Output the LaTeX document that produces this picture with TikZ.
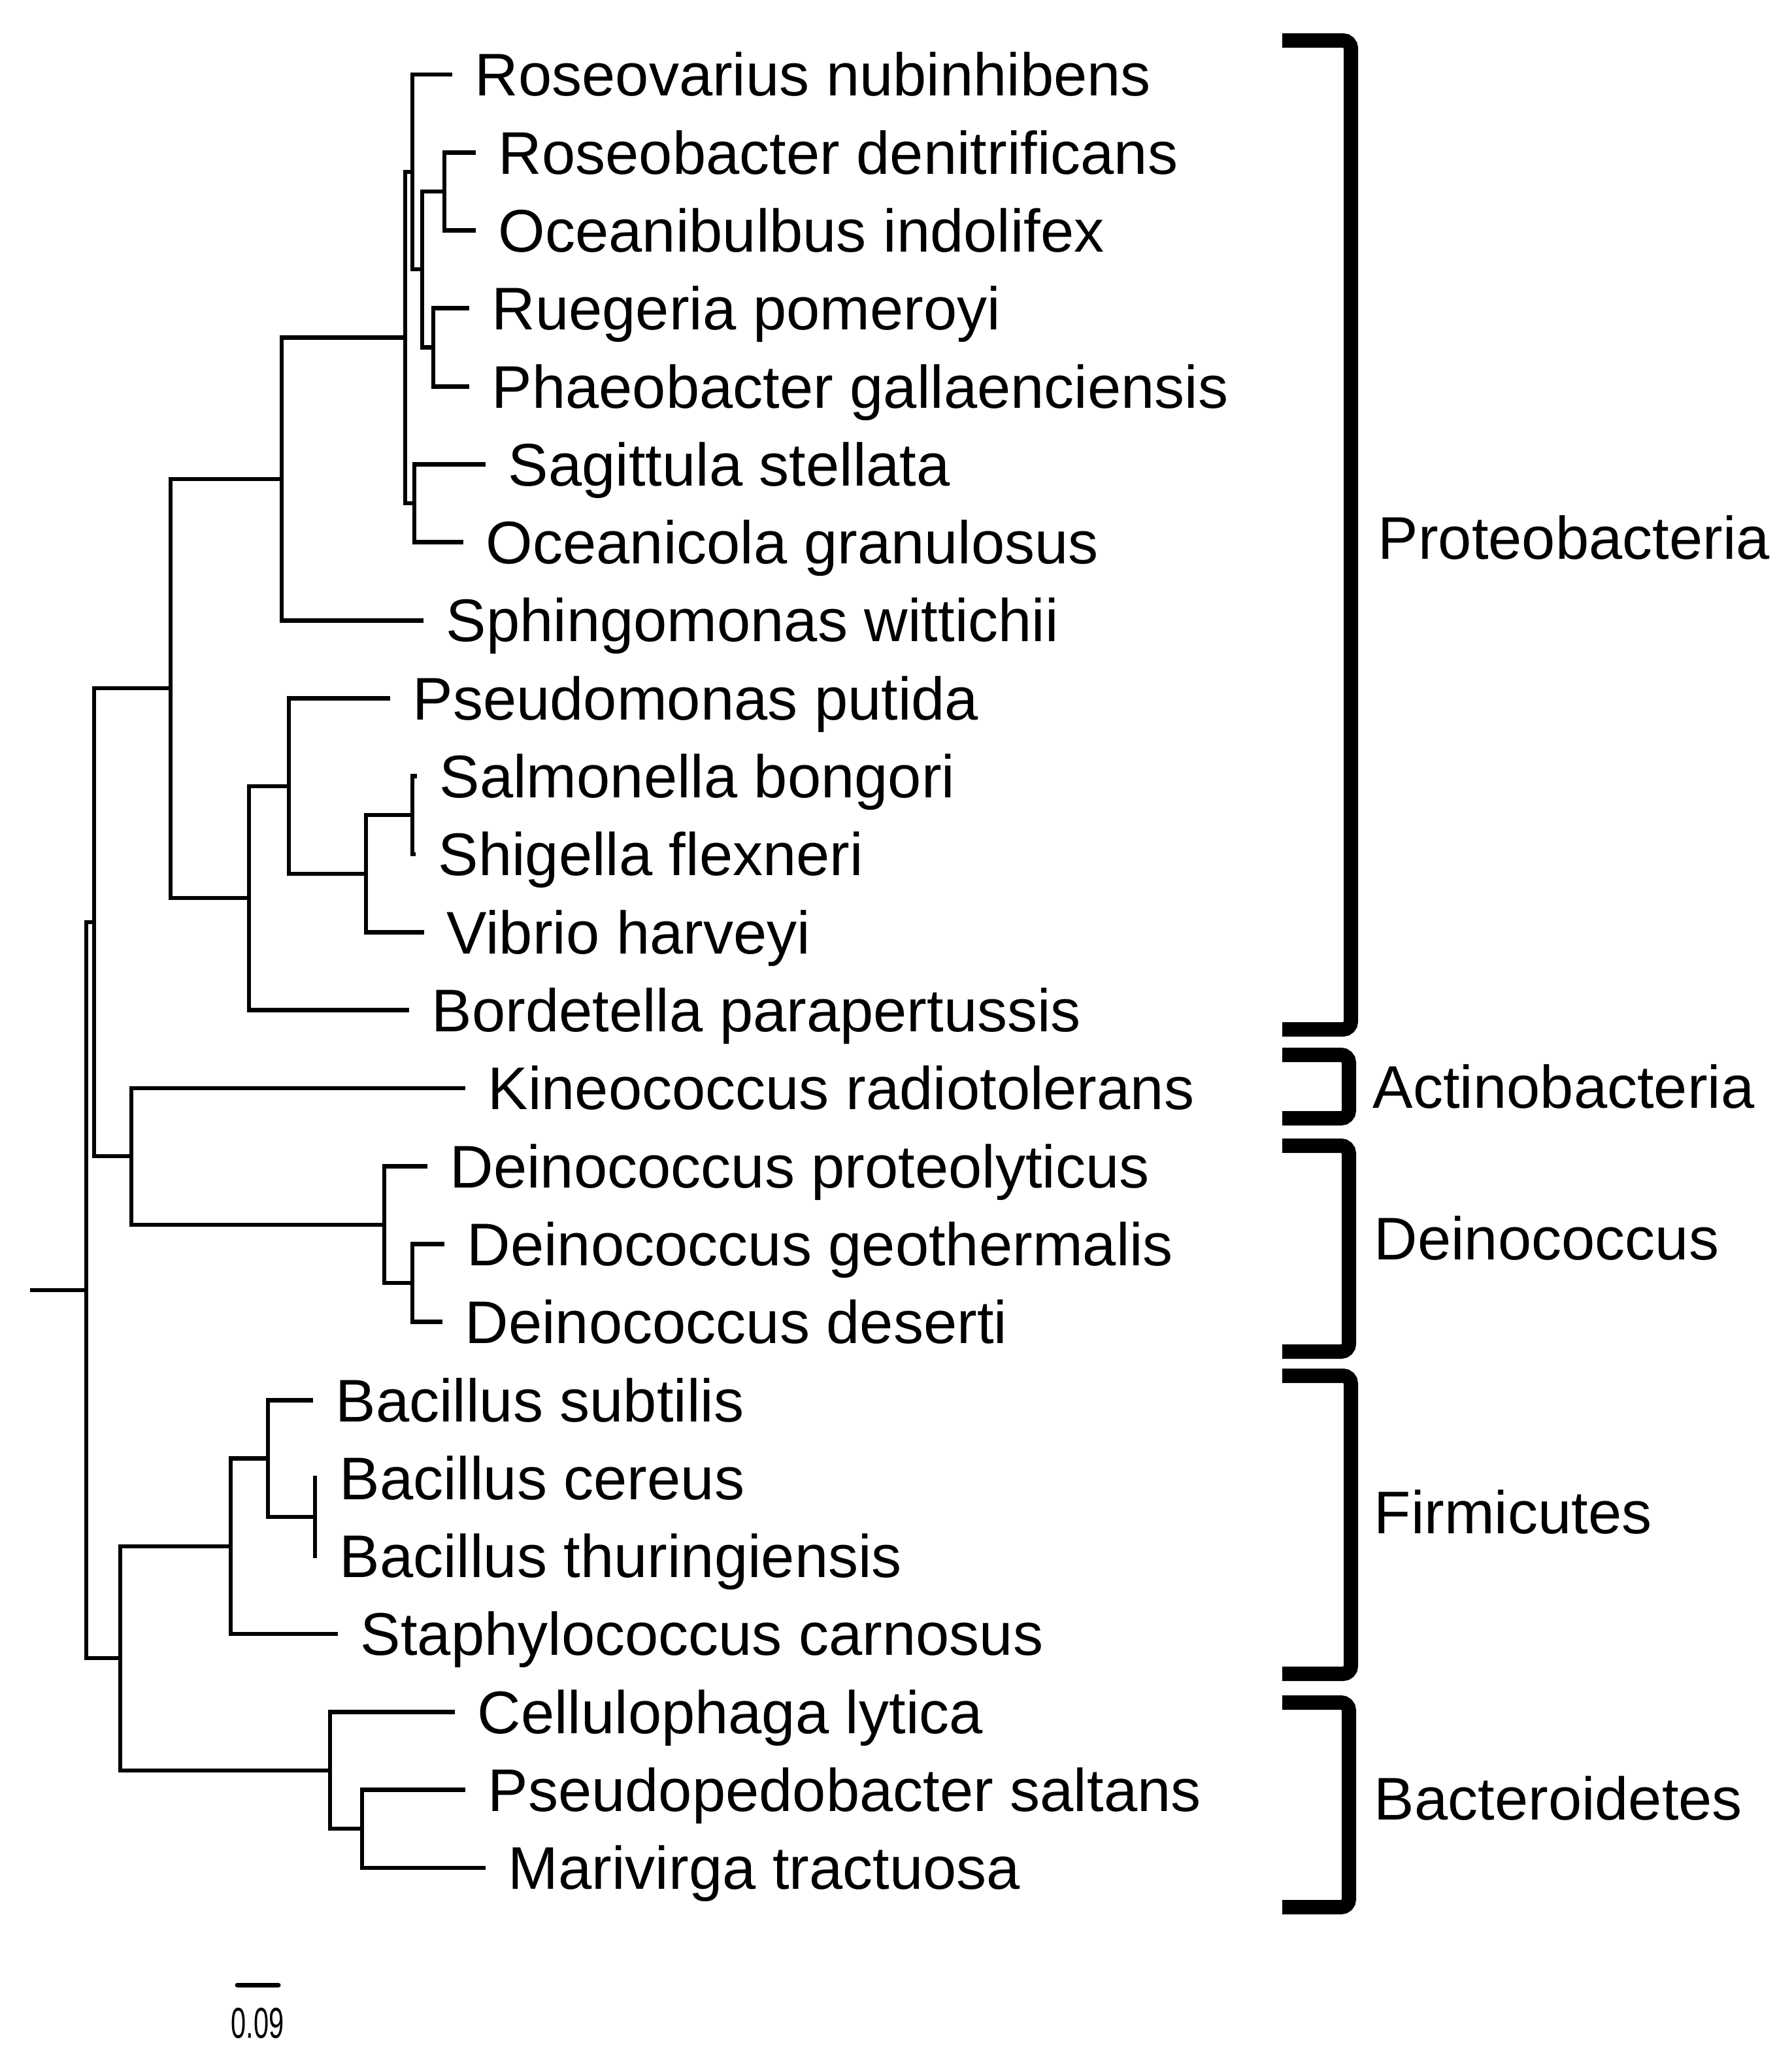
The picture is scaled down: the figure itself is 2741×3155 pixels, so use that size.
\documentclass[tikz,border=0pt]{standalone}
\usepackage{fontspec}
\setmainfont{Liberation Sans}
\usepackage{graphicx}
\begin{document}
\begin{tikzpicture}[x=0.01cm,y=-0.01cm,
  branch/.style={line width=0.068cm},
  leaf/.style={anchor=west, inner xsep=0.34cm, inner ysep=0pt, text height=18.7pt, text depth=0pt,
    font=\fontsize{26.2pt}{30pt}\selectfont},
  group/.style={anchor=west, inner sep=0pt, text height=18.7pt, text depth=0pt,
    font=\fontsize{26.2pt}{30pt}\selectfont},
  bracket/.style={line width=0.22cm, rounded corners=0.12cm},
  scalebar/.style={line width=0.07cm, line cap=round}]
\useasboundingbox (0,0) rectangle (2741,3155);
% leaves
\node[leaf] (l0) at (692,114) {Roseovarius nubinhibens};
\node[leaf] (l1) at (728,233.3) {Roseobacter denitrificans};
\node[leaf] (l2) at (728,352.6) {Oceanibulbus indolifex};
\node[leaf] (l3) at (718,471.9) {Ruegeria pomeroyi};
\node[leaf] (l4) at (718,591.2) {Phaeobacter gallaenciensis};
\node[leaf] (l5) at (743,710.5) {Sagittula stellata};
\node[leaf] (l6) at (709,829.8) {Oceanicola granulosus};
\node[leaf] (l7) at (648,949.1) {Sphingomonas wittichii};
\node[leaf] (l8) at (597,1068.4) {Pseudomonas putida};
\node[leaf] (l9) at (638,1187.7) {Salmonella bongori};
\node[leaf] (l10) at (636,1307) {Shigella flexneri};
\node[leaf] (l11) at (649,1426.3) {Vibrio harveyi};
\node[leaf] (l12) at (626,1545.6) {Bordetella parapertussis};
\node[leaf] (l13) at (712,1664.9) {Kineococcus radiotolerans};
\node[leaf] (l14) at (654,1784.2) {Deinococcus proteolyticus};
\node[leaf] (l15) at (680,1903.5) {Deinococcus geothermalis};
\node[leaf] (l16) at (677,2022.8) {Deinococcus deserti};
\node[leaf] (l17) at (479,2142.1) {Bacillus subtilis};
\node[leaf] (l18) at (485,2261.4) {Bacillus cereus};
\node[leaf] (l19) at (485,2380.7) {Bacillus thuringiensis};
\node[leaf] (l20) at (517,2500) {Staphylococcus carnosus};
\node[leaf] (l21) at (696,2619.3) {Cellulophaga lytica};
\node[leaf] (l22) at (712,2738.6) {Pseudopedobacter saltans};
\node[leaf] (l23) at (743,2857.9) {Marivirga tractuosa};
% internal nodes
\coordinate (nRb) at (680,293);
\coordinate (nRP) at (663,531.5);
\coordinate (nRbRP) at (646,412);
\coordinate (nRos) at (631,263);
\coordinate (nSO) at (634,770);
\coordinate (nRoseo) at (620,516.5);
\coordinate (nAlpha) at (431,733);
\coordinate (nSS) at (631,1247);
\coordinate (nSSV) at (560,1337);
\coordinate (nPseu) at (442,1203);
\coordinate (nBeta) at (381,1374);
\coordinate (nProteo) at (261,1053);
\coordinate (nDD) at (631,1963);
\coordinate (nDein) at (588,1874);
\coordinate (nKD) at (201,1769);
\coordinate (nPAD) at (144,1411);
\coordinate (nBc) at (482,2321);
\coordinate (nBac) at (410,2231.5);
\coordinate (nFirm) at (353,2366);
\coordinate (nPM) at (554,2798);
\coordinate (nBact) at (505,2709);
\coordinate (nFB) at (184,2537);
\coordinate (root) at (132,1974);
\coordinate (stem) at (46,1974);
% branches
\draw[branch] (nRb) |- (l1.west);   \draw[branch] (nRb) |- (l2.west);
\draw[branch] (nRP) |- (l3.west);   \draw[branch] (nRP) |- (l4.west);
\draw[branch] (nRbRP) |- (nRb);     \draw[branch] (nRbRP) |- (nRP);
\draw[branch] (nRos) |- (l0.west);  \draw[branch] (nRos) |- (nRbRP);
\draw[branch] (nSO) |- (l5.west);   \draw[branch] (nSO) |- (l6.west);
\draw[branch] (nRoseo) |- (nRos);   \draw[branch] (nRoseo) |- (nSO);
\draw[branch] (nAlpha) |- (nRoseo); \draw[branch] (nAlpha) |- (l7.west);
\draw[branch] (nSS) |- (l9.west);   \draw[branch] (nSS) |- (l10.west);
\draw[branch] (nSSV) |- (nSS);      \draw[branch] (nSSV) |- (l11.west);
\draw[branch] (nPseu) |- (l8.west); \draw[branch] (nPseu) |- (nSSV);
\draw[branch] (nBeta) |- (nPseu);   \draw[branch] (nBeta) |- (l12.west);
\draw[branch] (nProteo) |- (nAlpha);\draw[branch] (nProteo) |- (nBeta);
\draw[branch] (nDD) |- (l15.west);  \draw[branch] (nDD) |- (l16.west);
\draw[branch] (nDein) |- (l14.west);\draw[branch] (nDein) |- (nDD);
\draw[branch] (nKD) |- (l13.west);  \draw[branch] (nKD) |- (nDein);
\draw[branch] (nPAD) |- (nProteo);  \draw[branch] (nPAD) |- (nKD);
\draw[branch] (nBc) |- (l18.west);  \draw[branch] (nBc) |- (l19.west);
\draw[branch] (nBac) |- (l17.west); \draw[branch] (nBac) |- (nBc);
\draw[branch] (nFirm) |- (nBac);    \draw[branch] (nFirm) |- (l20.west);
\draw[branch] (nPM) |- (l22.west);  \draw[branch] (nPM) |- (l23.west);
\draw[branch] (nBact) |- (l21.west);\draw[branch] (nBact) |- (nPM);
\draw[branch] (nFB) |- (nFirm);     \draw[branch] (nFB) |- (nBact);
\draw[branch] (root) |- (nPAD);     \draw[branch] (root) |- (nFB);
\draw[branch] (stem) -- (root);
% group brackets
\draw[bracket] (1962,62) -- (2067,62) -- (2067,1575) -- (1962,1575);
\draw[bracket] (1962,1614) -- (2064,1614) -- (2064,1711) -- (1962,1711);
\draw[bracket] (1962,1753) -- (2064,1753) -- (2064,2068) -- (1962,2068);
\draw[bracket] (1962,2105) -- (2067,2105) -- (2067,2561) -- (1962,2561);
\draw[bracket] (1962,2605) -- (2064,2605) -- (2064,2918) -- (1962,2918);
\node[group] (gP) at (2108,823) {Proteobacteria};
\node[group] (gA) at (2100,1663) {Actinobacteria};
\node[group] (gD) at (2102,1895) {Deinococcus};
\node[group] (gF) at (2102,2314) {Firmicutes};
\node[group] (gB) at (2102,2752) {Bacteroidetes};
% scale bar
\coordinate (sbL) at (363,3037);
\coordinate (sbR) at (426,3037);
\draw[scalebar] (sbL) -- (sbR);
\node[inner sep=0pt, font=\fontsize{18.8pt}{20pt}\selectfont] (sbT) at (394,3096) {\scalebox{0.63}[1]{0.09}};
\end{tikzpicture}
\end{document}
